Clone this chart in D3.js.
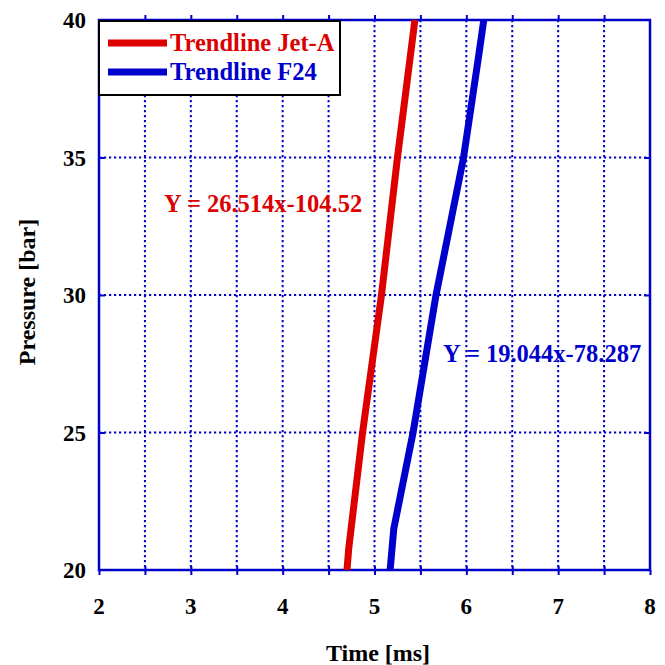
<!DOCTYPE html>
<html><head><meta charset="utf-8">
<script src="https://cdn.jsdelivr.net/npm/d3@7"></script>
<style>body{margin:0;background:#fff}</style>
</head><body>
<svg id="c" width="665" height="665"></svg>
<script>
const seriesNames = ["Trendline Jet-A", "Trendline F24"];
const seriesColors = ["#dd0000", "#0000cc"];
const jetA = [[4.70,20],[4.72,20.8],[4.87,25.0],[5.076,30.0],[5.25,35.0],[5.44,40]];
const f24 = [[5.17,20],[5.21,21.5],[5.42,25.0],[5.67,30.0],[5.97,35.0],[6.13,38.6],[6.19,40]];
const equations = ["Y = 26.514x-104.52", "Y = 19.044x-78.287"];
const xTicks = [2,3,4,5,6,7,8];
const yTicks = [20,25,30,35,40];
const xGrid = [2.5,3,3.5,4,4.5,5,5.5,6,6.5,7,7.5];
const yGrid = [25,30,35];

const svg = d3.select("#c");
const L=99, R=650, T=20, B=570;
const x = d3.scaleLinear().domain([2,8]).range([L,R]);
const y = d3.scaleLinear().domain([20,40]).range([B,T]);
const axisColor = "#0000cc";
const font = "'Liberation Serif','Times New Roman',serif";

// grid
const g = svg.append("g");
g.selectAll(".vg").data(xGrid).enter().append("line")
 .attr("x1",d=>x(d)).attr("x2",d=>x(d)).attr("y1",T).attr("y2",B)
 .attr("stroke",axisColor).attr("stroke-width",2).attr("stroke-dasharray","2.2,2.8");
g.selectAll(".hg").data(yGrid).enter().append("line")
 .attr("y1",d=>y(d)).attr("y2",d=>y(d)).attr("x1",L).attr("x2",R)
 .attr("stroke",axisColor).attr("stroke-width",2).attr("stroke-dasharray","2.2,2.8");

// ticks via axes
const xb = d3.axisBottom(x).tickValues(xGrid.concat([2,8])).tickSize(5).tickFormat("");
const xt = d3.axisTop(x).tickValues(xGrid).tickSize(5).tickFormat("");
const yl = d3.axisLeft(y).tickValues(yGrid).tickSize(-6).tickFormat("");
const yr = d3.axisRight(y).tickValues(yGrid).tickSize(-6).tickFormat("");
[[xb,`translate(0,${B})`],[xt,`translate(0,${T})`],[yl,`translate(${L},0)`],[yr,`translate(${R},0)`]].forEach(([a,t])=>{
  const ax = svg.append("g").attr("transform",t).call(a);
  ax.select(".domain").remove();
  ax.selectAll("line").attr("stroke",axisColor).attr("stroke-width",2);
});
svg.append("g").attr("transform",`translate(0,${B})`).call(d3.axisTop(x).tickValues(xGrid).tickSize(4).tickFormat(""))
  .call(s=>{s.select(".domain").remove(); s.selectAll("line").attr("stroke",axisColor).attr("stroke-width",2);});

// frame
svg.append("rect").attr("x",L).attr("y",T).attr("width",R-L).attr("height",B-T)
 .attr("fill","none").attr("stroke",axisColor).attr("stroke-width",2.5);

// tick labels
svg.selectAll(".xl").data(xTicks).enter().append("text")
 .attr("x",d=>x(d)).attr("y",614).attr("text-anchor","middle")
 .attr("font-family",font).attr("font-weight","bold").attr("font-size",23).text(d=>d);
svg.selectAll(".yl").data(yTicks).enter().append("text")
 .attr("x",86).attr("y",d=>y(d)+8).attr("text-anchor","end")
 .attr("font-family",font).attr("font-weight","bold").attr("font-size",23).text(d=>d);

svg.append("text").attr("x",378).attr("y",661).attr("text-anchor","middle")
 .attr("font-family",font).attr("font-weight","bold").attr("font-size",24).text("Time [ms]");
svg.append("text").attr("transform","translate(35,292) rotate(-90)").attr("text-anchor","middle")
 .attr("font-family",font).attr("font-weight","bold").attr("font-size",24).text("Pressure [bar]");

// lines
const line = d3.line().x(d=>x(d[0])).y(d=>y(d[1]));
[jetA,f24].forEach((s,i)=>{
  svg.append("path").attr("d",line(s)).attr("fill","none")
   .attr("stroke",seriesColors[i]).attr("stroke-width",7);
});

// equations
svg.append("text").attr("x",164).attr("y",212).attr("font-family",font).attr("font-weight","bold")
 .attr("font-size",24.5).attr("fill",seriesColors[0]).text(equations[0]);
svg.append("text").attr("x",443).attr("y",362).attr("font-family",font).attr("font-weight","bold")
 .attr("font-size",24.5).attr("fill",seriesColors[1]).text(equations[1]);

// legend
svg.append("rect").attr("x",99).attr("y",21).attr("width",241).attr("height",74)
 .attr("fill","#fff").attr("stroke","#000").attr("stroke-width",2);
seriesNames.forEach((n,i)=>{
  const yy = 43 + i*29;
  svg.append("line").attr("x1",108).attr("x2",167).attr("y1",yy).attr("y2",yy)
   .attr("stroke",seriesColors[i]).attr("stroke-width",7);
  svg.append("text").attr("x",170).attr("y",yy+8).attr("font-family",font).attr("font-weight","bold")
   .attr("font-size",24.5).attr("fill",seriesColors[i]).text(n);
});
</script>
</body></html>
